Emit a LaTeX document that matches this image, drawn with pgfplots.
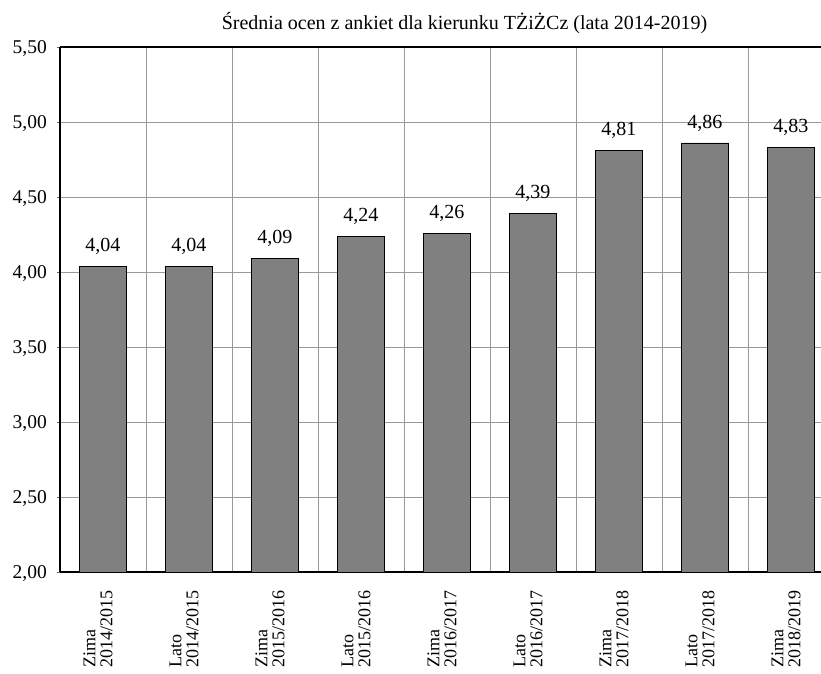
\documentclass[border=0pt]{standalone}
\usepackage{fontspec}
\setmainfont{Liberation Serif}
\usepackage{pgfplots}
\pgfplotsset{compat=1.18}
\begin{document}
\fontsize{18pt}{21pt}\selectfont
\begin{tikzpicture}
\useasboundingbox (-60pt,-101pt) rectangle (761pt,572pt);
\begin{axis}[
  at={(0,0)}, anchor=south west,
  scale only axis, width=761pt, height=525pt,
  xmin=-0.5, xmax=8.349, ymin=2, ymax=5.5,
  axis x line*=box, axis y line*=left,
  axis line style={-, black, line width=1.3pt},
  ytick={2,2.5,...,5.5},
  /pgf/number format/assume math mode=true,
  yticklabel style={/pgf/number format/.cd, fixed, fixed zerofill, precision=2, use comma, /tikz/.cd, font=\fontsize{19.5pt}{22pt}\selectfont, xshift=-4pt, yshift=-1.5pt},
  tick align=outside, major tick length=3pt,
  y tick style={gray!80!black},
  xtick={0,...,8},
  x tick style={draw=none},
  minor xtick={0.5,1.5,...,7.5},
  minor x tick style={draw=none},
  xticklabels={{Zima\\2014/2015},{Lato\\2014/2015},{Zima\\2015/2016},{Lato\\2015/2016},{Zima\\2016/2017},{Lato\\2016/2017},{Zima\\2017/2018},{Lato\\2017/2018},{Zima\\2018/2019}},
  xticklabel style={xshift=-5pt, yshift=-14pt, rotate=90, anchor=east, align=left, inner sep=1pt, font=\fontsize{18pt}{17pt}\selectfont},
  ymajorgrids, xminorgrids,
  grid style={gray!80, line width=0.9pt},
  minor grid style={gray!80, line width=0.9pt},
  ybar, bar width=0.55,
  nodes near coords,
  nodes near coords style={/pgf/number format/.cd, fixed, fixed zerofill, precision=2, use comma, /tikz/.cd, font=\fontsize{20pt}{22pt}\selectfont, yshift=5pt},
  clip=false,
]
\addplot[fill=gray, draw=black, line width=0.9pt] coordinates {
(0,4.04) (1,4.04) (2,4.09) (3,4.24) (4,4.26) (5,4.39) (6,4.81) (7,4.86) (8,4.83)};
\end{axis}
\node[font=\fontsize{20pt}{22pt}\selectfont, anchor=base] at (404.5pt,542pt) {Średnia ocen z ankiet dla kierunku TŻiŻCz (lata 2014-2019)};
\end{tikzpicture}
\end{document}
